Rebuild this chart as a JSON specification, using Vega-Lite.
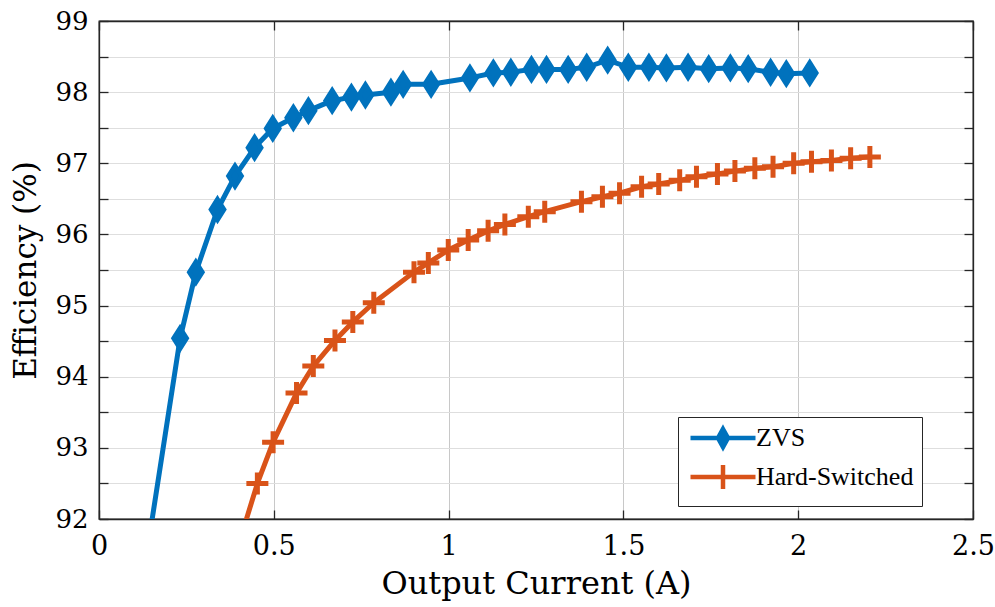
{
  "$schema": "https://vega.github.io/schema/vega-lite/v6.json",
  "autosize": "none",
  "padding": {"left": 99, "top": 21, "right": 22, "bottom": 88},
  "width": 874,
  "height": 498,
  "background": "white",
  "config": {
    "view": {"stroke": "#262626", "strokeWidth": 1.3},
    "font": "DejaVu Serif",
    "style": {"guide-label": {"font": "DejaVu Serif"}, "guide-title": {"font": "DejaVu Serif"}},
    "legend": {"labelFont": "serif", "labelFontSize": 26, "labelColor": "black", "labelLimit": 0},
    "axis": {
      "labelFont": "DejaVu Serif",
      "titleFont": "DejaVu Serif",
      "labelColor": "black",
      "titleColor": "black",
      "titleFontWeight": "normal",
      "domainColor": "#262626",
      "domainWidth": 1.3,
      "tickColor": "#262626",
      "tickWidth": 1.3,
      "tickSize": -9,
      "labelFlush": false
    }
  },
  "data": {
    "values": [
      {"series": "ZVS", "current": 0.12, "eff": 90.98},
      {"series": "ZVS", "current": 0.232, "eff": 94.54},
      {"series": "ZVS", "current": 0.277, "eff": 95.47},
      {"series": "ZVS", "current": 0.339, "eff": 96.35},
      {"series": "ZVS", "current": 0.389, "eff": 96.82},
      {"series": "ZVS", "current": 0.445, "eff": 97.22},
      {"series": "ZVS", "current": 0.497, "eff": 97.49},
      {"series": "ZVS", "current": 0.556, "eff": 97.64},
      {"series": "ZVS", "current": 0.599, "eff": 97.74},
      {"series": "ZVS", "current": 0.667, "eff": 97.88},
      {"series": "ZVS", "current": 0.722, "eff": 97.93},
      {"series": "ZVS", "current": 0.762, "eff": 97.96},
      {"series": "ZVS", "current": 0.835, "eff": 98.0},
      {"series": "ZVS", "current": 0.87, "eff": 98.11},
      {"series": "ZVS", "current": 0.95, "eff": 98.11},
      {"series": "ZVS", "current": 1.061, "eff": 98.2},
      {"series": "ZVS", "current": 1.128, "eff": 98.27},
      {"series": "ZVS", "current": 1.178, "eff": 98.28},
      {"series": "ZVS", "current": 1.237, "eff": 98.32},
      {"series": "ZVS", "current": 1.28, "eff": 98.32},
      {"series": "ZVS", "current": 1.342, "eff": 98.32},
      {"series": "ZVS", "current": 1.395, "eff": 98.35},
      {"series": "ZVS", "current": 1.455, "eff": 98.45},
      {"series": "ZVS", "current": 1.514, "eff": 98.35},
      {"series": "ZVS", "current": 1.573, "eff": 98.35},
      {"series": "ZVS", "current": 1.623, "eff": 98.34},
      {"series": "ZVS", "current": 1.685, "eff": 98.35},
      {"series": "ZVS", "current": 1.744, "eff": 98.33},
      {"series": "ZVS", "current": 1.806, "eff": 98.34},
      {"series": "ZVS", "current": 1.857, "eff": 98.33},
      {"series": "ZVS", "current": 1.921, "eff": 98.28},
      {"series": "ZVS", "current": 1.966, "eff": 98.26},
      {"series": "ZVS", "current": 2.033, "eff": 98.27},
      {"series": "Hard-Switched", "current": 0.4, "eff": 91.65},
      {"series": "Hard-Switched", "current": 0.453, "eff": 92.5},
      {"series": "Hard-Switched", "current": 0.498, "eff": 93.08},
      {"series": "Hard-Switched", "current": 0.565, "eff": 93.77},
      {"series": "Hard-Switched", "current": 0.613, "eff": 94.15},
      {"series": "Hard-Switched", "current": 0.675, "eff": 94.51},
      {"series": "Hard-Switched", "current": 0.726, "eff": 94.77},
      {"series": "Hard-Switched", "current": 0.786, "eff": 95.04},
      {"series": "Hard-Switched", "current": 0.901, "eff": 95.47},
      {"series": "Hard-Switched", "current": 0.942, "eff": 95.6},
      {"series": "Hard-Switched", "current": 0.999, "eff": 95.78},
      {"series": "Hard-Switched", "current": 1.056, "eff": 95.92},
      {"series": "Hard-Switched", "current": 1.113, "eff": 96.05},
      {"series": "Hard-Switched", "current": 1.161, "eff": 96.14},
      {"series": "Hard-Switched", "current": 1.228, "eff": 96.25},
      {"series": "Hard-Switched", "current": 1.275, "eff": 96.32},
      {"series": "Hard-Switched", "current": 1.38, "eff": 96.46},
      {"series": "Hard-Switched", "current": 1.44, "eff": 96.53},
      {"series": "Hard-Switched", "current": 1.489, "eff": 96.58},
      {"series": "Hard-Switched", "current": 1.552, "eff": 96.67},
      {"series": "Hard-Switched", "current": 1.601, "eff": 96.71},
      {"series": "Hard-Switched", "current": 1.661, "eff": 96.76},
      {"series": "Hard-Switched", "current": 1.709, "eff": 96.81},
      {"series": "Hard-Switched", "current": 1.769, "eff": 96.85},
      {"series": "Hard-Switched", "current": 1.819, "eff": 96.89},
      {"series": "Hard-Switched", "current": 1.876, "eff": 96.93},
      {"series": "Hard-Switched", "current": 1.928, "eff": 96.95},
      {"series": "Hard-Switched", "current": 1.987, "eff": 97.0},
      {"series": "Hard-Switched", "current": 2.038, "eff": 97.02},
      {"series": "Hard-Switched", "current": 2.095, "eff": 97.04},
      {"series": "Hard-Switched", "current": 2.15, "eff": 97.07},
      {"series": "Hard-Switched", "current": 2.205, "eff": 97.09}
    ]
  },
  "resolve": {"axis": {"x": "independent", "y": "independent"}},
  "layer": [
    {
      "mark": {"type": "line", "clip": true, "strokeWidth": 5, "strokeJoin": "round"},
      "encoding": {
        "x": {
          "field": "current", "type": "quantitative",
          "scale": {"domain": [0, 2.5], "nice": false, "zero": false},
          "axis": {
            "orient": "bottom",
            "title": "Output Current (A)",
            "titleFontSize": 32,
            "titlePadding": 9,
            "values": [0, 0.5, 1, 1.5, 2, 2.5],
            "format": "~g",
            "labelFontSize": 27,
            "labelPadding": 23,
            "grid": true,
            "gridColor": "#c8c8c8",
            "gridWidth": 1
          }
        },
        "y": {
          "field": "eff", "type": "quantitative",
          "scale": {"domain": [92, 99], "nice": false, "zero": false},
          "axis": {
            "orient": "left",
            "title": "Efficiency (%)",
            "titleFontSize": 31,
            "titlePadding": 12,
            "values": [92, 92.5, 93, 93.5, 94, 94.5, 95, 95.5, 96, 96.5, 97, 97.5, 98, 98.5, 99],
            "format": "~g",
            "labelExpr": "datum.value % 1 === 0 ? datum.label : ''",
            "labelFontSize": 26,
            "labelPadding": 20,
            "grid": true,
            "gridColor": "#dedede",
            "gridWidth": 1
          }
        },
        "color": {
          "field": "series", "type": "nominal",
          "scale": {"domain": ["ZVS", "Hard-Switched"], "range": ["#0072BD", "#D95319"]},
          "legend": {
            "title": null,
            "orient": "none",
            "legendX": 579,
            "legendY": 396,
            "fillColor": "white",
            "strokeColor": "#262626",
            "padding": 8,
            "symbolSize": 400,
            "symbolStrokeWidth": 4.5,
            "symbolOffset": 24,
            "labelOffset": 20,
            "labelFont": "serif",
            "labelFontSize": 26,
            "labelColor": "black",
            "labelLimit": 0,
            "rowPadding": 0
          }
        }
      }
    },
    {
      "transform": [{"filter": "datum.series === 'ZVS'"}],
      "mark": {"type": "point", "clip": true, "filled": true, "size": 484, "strokeWidth": 4.5, "strokeJoin": "miter", "opacity": 1,
        "shape": "M0,-0.95L0.6,0L0,0.95L-0.6,0Z", "fill": "#0072BD", "stroke": "#0072BD"},
      "encoding": {
        "x": {
          "field": "current", "type": "quantitative",
          "axis": {"orient": "top", "labels": false, "title": null, "grid": false, "values": [0, 0.5, 1, 1.5, 2, 2.5]}
        },
        "y": {
          "field": "eff", "type": "quantitative",
          "axis": {"orient": "right", "labels": false, "title": null, "grid": false,
            "values": [92, 92.5, 93, 93.5, 94, 94.5, 95, 95.5, 96, 96.5, 97, 97.5, 98, 98.5, 99]}
        }
      }
    },
    {
      "transform": [{"filter": "datum.series === 'Hard-Switched'"}],
      "mark": {"type": "point", "clip": true, "filled": false, "size": 400, "strokeWidth": 5, "opacity": 1,
        "shape": "M-1.1,0H1.1M0,-1.1V1.1", "stroke": "#D95319"},
      "encoding": {
        "x": {"field": "current", "type": "quantitative", "axis": null},
        "y": {"field": "eff", "type": "quantitative", "axis": null}
      }
    },
    {
      "transform": [{"filter": "datum.current > 100"}],
      "mark": {"type": "point", "filled": true, "size": 400, "strokeWidth": 4.5, "opacity": 1},
      "encoding": {
        "x": {"field": "current", "type": "quantitative", "axis": null},
        "y": {"field": "eff", "type": "quantitative", "axis": null},
        "color": {
          "field": "series", "type": "nominal",
          "scale": {"domain": ["ZVS", "Hard-Switched"], "range": ["#0072BD", "#D95319"]},
          "legend": {
            "title": null,
            "orient": "none",
            "legendX": 579,
            "legendY": 396,
            "fillColor": "white",
            "strokeColor": "#262626",
            "padding": 8,
            "symbolSize": 400,
            "symbolStrokeWidth": 4.5,
            "symbolOffset": 24,
            "labelOffset": 20,
            "labelFont": "serif",
            "labelFontSize": 26,
            "labelColor": "black",
            "labelLimit": 0,
            "rowPadding": 0
          }
        },
        "shape": {
          "field": "series", "type": "nominal",
          "scale": {"domain": ["ZVS", "Hard-Switched"], "range": ["M-3.25,0H3.25M0,-0.9L0.5,0L0,0.9L-0.5,0Z", "M-3.25,0H3.25M0,-1.2V1.2"]},
          "legend": {
            "title": null,
            "orient": "none",
            "legendX": 579,
            "legendY": 396,
            "fillColor": "white",
            "strokeColor": "#262626",
            "padding": 8,
            "symbolSize": 400,
            "symbolStrokeWidth": 4.5,
            "symbolOffset": 24,
            "labelOffset": 20,
            "labelFont": "serif",
            "labelFontSize": 26,
            "labelColor": "black",
            "labelLimit": 0,
            "rowPadding": 0
          }
        },
        "stroke": {
          "field": "series", "type": "nominal",
          "scale": {"domain": ["ZVS", "Hard-Switched"], "range": ["#0072BD", "#D95319"]},
          "legend": null
        }
      }
    }
  ]
}
